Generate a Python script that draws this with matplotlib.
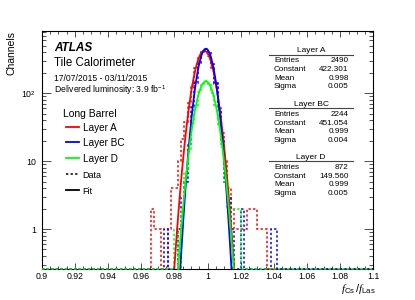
import numpy as np
import matplotlib
matplotlib.use('Agg')
import matplotlib.pyplot as plt
from matplotlib.lines import Line2D
from matplotlib.ticker import FixedLocator, NullFormatter

plt.rcParams['font.family'] = ['Liberation Sans', 'DejaVu Sans']
plt.rcParams['mathtext.fontset'] = 'custom'
plt.rcParams['mathtext.rm'] = 'Liberation Sans'
plt.rcParams['mathtext.it'] = 'Liberation Serif:italic'
plt.rcParams['mathtext.bf'] = 'Liberation Sans:bold'

# ---------------- data ----------------
hist_lo, hist_hi, bin_width = 0.9, 1.1, 0.002
data_first_edge = 0.964   # first bin edge of the listed counts (all other bins are empty)

layers = ['Layer A', 'Layer BC', 'Layer D']
colors = ['#ff0000', '#0000ff', '#00ff00']

counts_A = [0, 2, 1, 1, 0, 0, 1, 4, 4, 10,
            21, 38, 72, 132, 238, 330, 400, 412, 350, 236,
            138, 60, 26, 10, 4, 2, 1, 1, 1, 1,
            2, 2, 2, 1, 1, 1, 0, 0, 0, 0]
counts_BC = [0, 0, 0, 0, 0, 1, 0, 0, 0, 1,
             3, 5, 18, 62, 142, 274, 392, 450, 402, 266,
             142, 58, 20, 5, 3, 1, 0, 0, 2, 0,
             0, 0, 0, 0, 0, 0, 0, 1, 1, 0]
counts_D = [0, 0, 0, 0, 0, 0, 0, 0, 1, 0,
            2, 7, 14, 36, 63, 105, 133, 150, 138, 100,
            66, 33, 16, 5, 2, 2, 2, 2, 0, 0,
            0, 0, 0, 0, 0, 0, 0, 0, 0, 0]

entries = [2490, 2244, 872]
constants = [422.301, 451.054, 149.560]
means = [0.998, 0.999, 0.999]
sigmas = [0.0047, 0.0040, 0.0047]

x_ticks = [0.9, 0.92, 0.94, 0.96, 0.98, 1.0, 1.02, 1.04, 1.06, 1.08, 1.1]
x_ticklabels = ['0.9', '0.92', '0.94', '0.96', '0.98', '1', '1.02', '1.04', '1.06', '1.08', '1.1']
y_ticks = [1, 10, 100]
y_ticklabels = ['1', '10', '$10^{2}$']
ymin, ymax = 0.258, 832

# ---------------- figure ----------------
W, H = 415, 300
fig = plt.figure(figsize=(W / 100, H / 100), dpi=100)
def fx(px): return px / W
def fy(py): return 1 - py / H

ax_l, ax_r, ax_t, ax_b = 41.7, 373.4, 30.7, 269.0
ax = fig.add_axes([fx(ax_l), fy(ax_b), fx(ax_r - ax_l), (ax_b - ax_t) / H])
ax.set_yscale('log')
ax.set_xlim(hist_lo, hist_hi)
ax.set_ylim(ymin, ymax)

nbins = int(round((hist_hi - hist_lo) / bin_width))
edges = np.linspace(hist_lo, hist_hi, nbins + 1)
first = int(round((data_first_edge - hist_lo) / bin_width))
xf = np.linspace(hist_lo, hist_hi, 4001)

for cts, col, C, m, s in zip([counts_A, counts_BC, counts_D], colors, constants, means, sigmas):
    full = np.zeros(nbins)
    full[first:first + len(cts)] = cts
    shown = np.maximum(full, ymin)
    ax.stairs(shown, edges, baseline=None, color=col, lw=1.1,
              linestyle=(0, (1.5, 1.5)), clip_on=False, zorder=3)
    yf = C * np.exp(-0.5 * ((xf - m) / s) ** 2)
    yf = np.where(yf > 1e-3, yf, np.nan)
    ax.plot(xf, yf, color=col, lw=1.3, zorder=4)

# ticks
ax.xaxis.set_major_locator(FixedLocator(x_ticks))
ax.set_xticklabels(x_ticklabels)
ax.xaxis.set_minor_locator(FixedLocator(np.arange(0.9, 1.1001, 0.005)))
ax.yaxis.set_major_locator(FixedLocator(y_ticks))
ax.set_yticklabels(y_ticklabels)
minors = [k * 10 ** e for e in range(-1, 3) for k in range(2, 10)]
ax.yaxis.set_minor_locator(FixedLocator(minors))
ax.yaxis.set_minor_formatter(NullFormatter())
ax.tick_params(axis='both', which='both', direction='in', top=True, right=True,
               labelsize=6.3, width=0.6, color='#333333')
ax.tick_params(axis='x', which='major', length=4.3, pad=2)
ax.tick_params(axis='x', which='minor', length=2.2)
ax.tick_params(axis='y', which='major', length=6.5, pad=4)
ax.tick_params(axis='y', which='minor', length=3.2)
for sp in ax.spines.values():
    sp.set_linewidth(0.8)

# axis titles
fig.text(fx(11.2), fy(30.7), 'Channels', rotation=90, ha='center', va='top', fontsize=7.5)
fig.text(fx(376), fy(292), r'$f_{\mathrm{Cs}}\,/f_{\mathrm{Las}}$', ha='right', va='baseline', fontsize=8)

# ATLAS labels
fig.text(fx(54.3), fy(50.7), 'ATLAS', fontsize=8.5, weight='bold', style='italic', va='baseline')
fig.text(fx(54.3), fy(65.7), 'Tile Calorimeter', fontsize=8.3, va='baseline')
fig.text(fx(54.3), fy(81), '17/07/2015 - 03/11/2015', fontsize=6.2, va='baseline')
fig.text(fx(54.3), fy(92.3), 'Delivered luminosity: 3.9 fb$^{-1}$', fontsize=6.2, va='baseline')

# legend
fig.text(fx(62.7), fy(117), 'Long Barrel', fontsize=7.5, va='baseline')
leg_y_text = [130.7, 145.7, 161.7]
for name, col, yt in zip(layers, colors, leg_y_text):
    fig.add_artist(Line2D([fx(65.7), fx(79.3)], [fy(yt - 3.8), fy(yt - 3.8)], color=col, lw=1.3))
    fig.text(fx(82.7), fy(yt), name, fontsize=7.2, va='baseline')
fig.add_artist(Line2D([fx(65.7), fx(79.3)], [fy(174.3), fy(174.3)], color='black', lw=1.1,
                      linestyle=(0, (1.5, 1.5))))
fig.text(fx(82.7), fy(178.3), 'Data', fontsize=6.5, va='baseline')
fig.add_artist(Line2D([fx(65.7), fx(79.3)], [fy(190.3), fy(190.3)], color='black', lw=1.3))
fig.text(fx(82.7), fy(193.7), 'Fit', fontsize=6.5, va='baseline')

# stat boxes
title_y = [52.3, 106.0, 159.0]
for name, ty, n, C, m, s in zip(layers, title_y, entries, constants, means, sigmas):
    fig.text(fx(311), fy(ty), name, fontsize=6.0, ha='center', va='baseline')
    fig.add_artist(Line2D([fx(269.3), fx(352.7)], [fy(ty + 2.2), fy(ty + 2.2)], color='#444444', lw=0.8))
    rows = [('Entries', f'{n}'), ('Constant', f'{C:.3f}'), ('Mean', f'{m:.3f}'), ('Sigma', f'{s:.3f}')]
    for i, (lab, val) in enumerate(rows):
        yy = ty + 10.0 + i * 8.7
        fig.text(fx(274), fy(yy), lab, fontsize=5.9, va='baseline')
        fig.text(fx(348.7), fy(yy), val, fontsize=5.9, ha='right', va='baseline')

fig.savefig('out.png', dpi=100)
